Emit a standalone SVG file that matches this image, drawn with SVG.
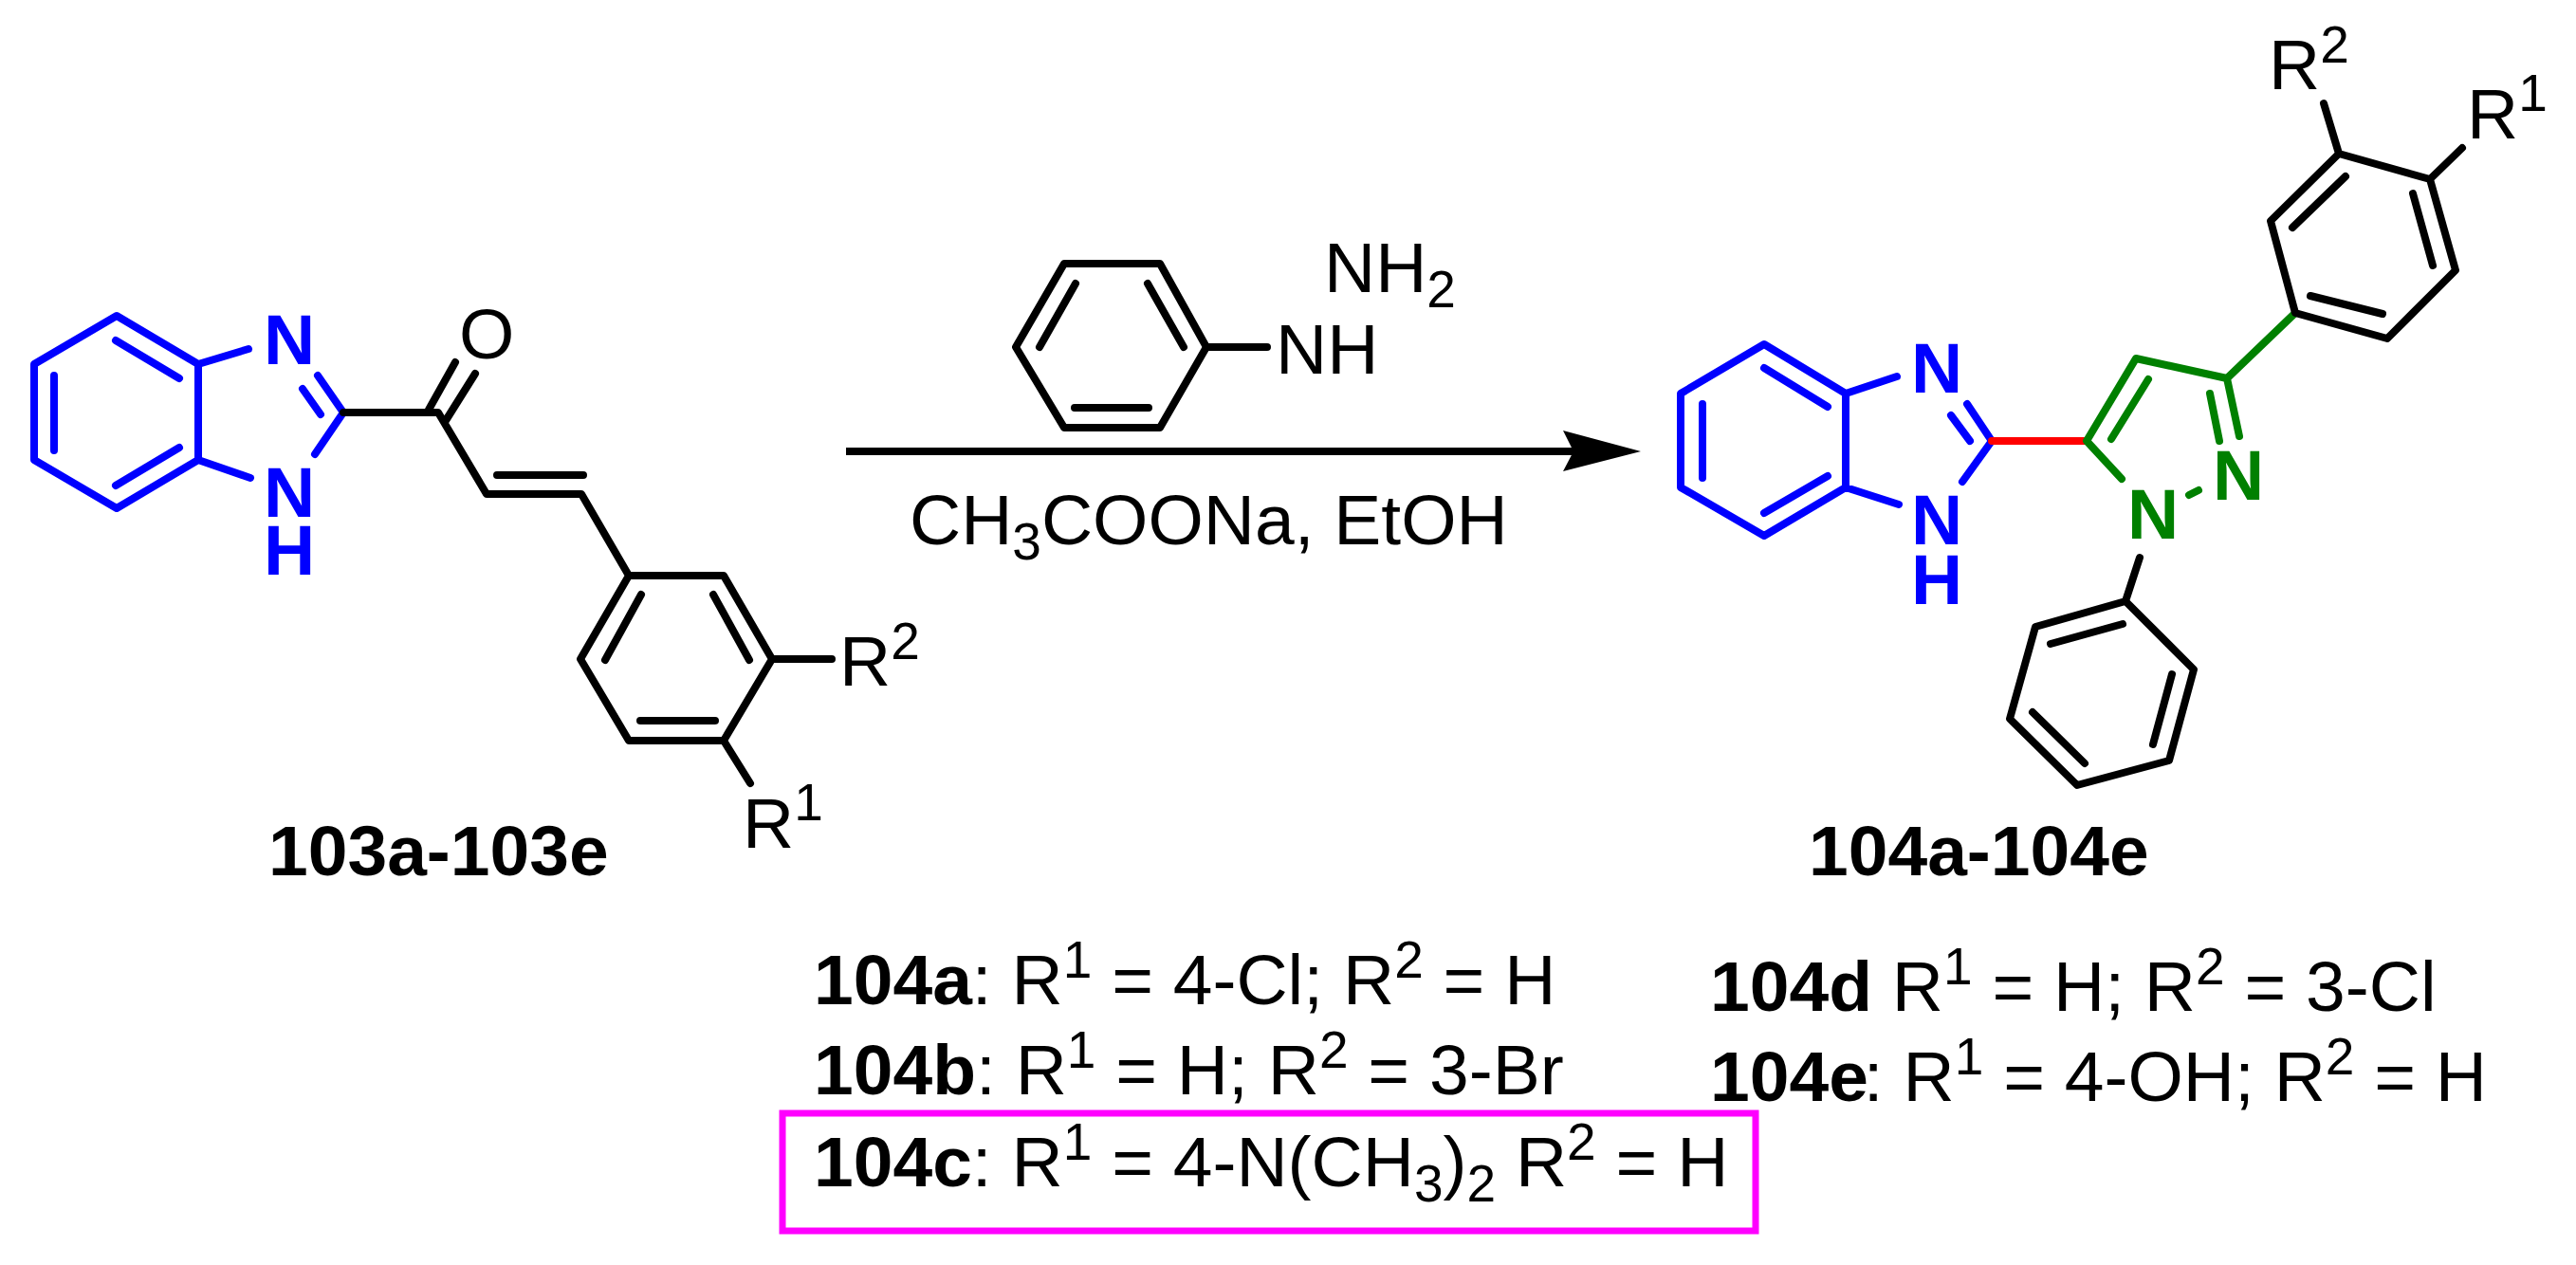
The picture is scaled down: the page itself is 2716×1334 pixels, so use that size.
<svg xmlns="http://www.w3.org/2000/svg" width="2716" height="1334" viewBox="0 0 2716 1334">
<style>
text{font-family:"Liberation Sans",Arial,sans-serif;font-size:75px;fill:#000}
.b{font-weight:bold}
.blue{fill:#0000ff}.grn{fill:#008000}
.s{font-size:55px}
path{fill:none;stroke-width:8;stroke-linecap:round;stroke-linejoin:round}
.k{stroke:#000}.bl{stroke:#0000ff}.g{stroke:#008000}.r{stroke:#ff0000}
</style>
<rect width="2716" height="1334" fill="#fff"/>
<g id="reactant-103">
<path class="bl" d="M123 333L36 384V485L123 536L209 485V384ZM122 359L189 399M57 396V475M122 512L189 472M209 384L262 368M209 485L264 504M362 435L335 396M338 437L319 410M362 435L332 479"/>
<path class="k" d="M362 435H462L513 521H613L663 607M452 432L480 382M469 445L501 394M524 501H615M663 607H763L814 695L763 781H663L612 695ZM676 627L638 696M752 627L790 696M675 760H754M814 695H877M763 781L791 826"/>
<text class="b blue" x="278" y="384">N</text>
<text class="b blue" x="278" y="545">N</text>
<text class="b blue" x="278" y="606">H</text>
<text x="484" y="378">O</text>
<text x="885" y="723">R<tspan class="s" dy="-28">2</tspan></text>
<text x="783" y="894">R<tspan class="s" dy="-29">1</tspan></text>
<text class="b" x="283" y="923">103a-103e</text>
</g>
<g id="reagent-phenylhydrazine">
<path class="k" d="M1122 278H1223L1272 366L1223 451H1122L1071 366ZM1134 299L1096 366M1210 299L1248 366M1133 430H1211M1272 366H1336"/>
<text x="1345" y="394">NH</text>
<text x="1396" y="308">NH<tspan class="s" dy="16">2</tspan></text>
<text x="959" y="574">CH<tspan class="s" dy="16">3</tspan><tspan dy="-16">COONa, EtOH</tspan></text>
</g>
<g id="connectors">
<path class="k" d="M892 476H1660" style="stroke-linecap:butt"/>
<polygon points="1648,454 1730,476 1648,497 1659,476" fill="#000"/>
</g>
<g id="product-104">
<path class="bl" d="M1860 363L1772 415V514L1860 565L1946 514V415ZM1860 388L1927 429M1795 426V504M1860 541L1927 502M1946 415L2000 397M1946 514L2002 532M2100 465L2074 426M2077 465L2057 438M2100 465L2069 508"/>
<path class="r" d="M2100 465H2200"/>
<path class="g" d="M2237 505L2200 465L2252 378L2348 399L2361 460M2226 463L2265 400M2330 415L2340 465M2308 522L2318 517M2348 399L2420 330"/>
<path class="k" d="M2256 588L2241 634L2313 706L2287 802L2190 828L2119 758L2146 661L2241 634M2238 658L2162 679M2290 711L2270 785M2198 805L2143 751M2420 330L2517 357L2589 285L2562 189L2466 162L2394 233ZM2436 312L2512 331M2565 280L2544 204M2473 186L2417 240M2466 162L2450 109M2562 189L2596 156"/>
<text class="b blue" x="2015" y="414">N</text>
<text class="b blue" x="2015" y="574">N</text>
<text class="b blue" x="2015" y="637">H</text>
<text class="b grn" x="2243" y="568">N</text>
<text class="b grn" x="2333" y="527">N</text>
<text x="2392" y="94">R<tspan class="s" dy="-28">2</tspan></text>
<text x="2601" y="146">R<tspan class="s" dy="-29">1</tspan></text>
<text class="b" x="1907" y="923">104a-104e</text>
</g>
<g id="substituents">
<text x="858" y="1059"><tspan class="b">104a</tspan>: R<tspan class="s" dy="-28">1</tspan><tspan dy="28"> = 4-Cl; R</tspan><tspan class="s" dy="-28">2</tspan><tspan dy="28"> = H</tspan></text>
<text x="858" y="1154"><tspan class="b">104b</tspan>: R<tspan class="s" dy="-28">1</tspan><tspan dy="28"> = H; R</tspan><tspan class="s" dy="-28">2</tspan><tspan dy="28"> = 3-Br</tspan></text>
<text x="858" y="1251"><tspan class="b">104c</tspan>: R<tspan class="s" dy="-28">1</tspan><tspan dy="28"> = 4-N(CH</tspan><tspan class="s" dy="16">3</tspan><tspan dy="-16">)</tspan><tspan class="s" dy="16">2</tspan><tspan dy="-16"> R</tspan><tspan class="s" dy="-28">2</tspan><tspan dy="28"> = H</tspan></text>
<text x="1803" y="1066"><tspan class="b">104d</tspan> R<tspan class="s" dy="-28">1</tspan><tspan dy="28"> = H; R</tspan><tspan class="s" dy="-28">2</tspan><tspan dy="28"> = 3-Cl</tspan></text>
<text x="1803" y="1161"><tspan class="b">104e</tspan><tspan dx="-5">: R</tspan><tspan class="s" dy="-28">1</tspan><tspan dy="28"> = 4-OH; R</tspan><tspan class="s" dy="-28">2</tspan><tspan dy="28"> = H</tspan></text>
<rect id="highlight-104c" x="825" y="1174" width="1026" height="124" fill="none" stroke="#ff00ff" stroke-width="7"/>
</g>
</svg>
